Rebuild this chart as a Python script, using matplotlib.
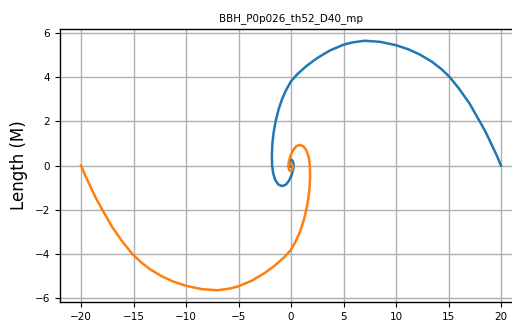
import matplotlib
matplotlib.use("Agg")
import matplotlib.pyplot as plt

title = "BBH_P0p026_th52_D40_mp"
ylabel = "Length (M)"
xticks = [-20, -15, -10, -5, 0, 5, 10, 15, 20]
yticks = [-6, -4, -2, 0, 2, 4, 6]

blue_x = [20.0, 19.55, 19.05, 18.55, 18.0, 17.0, 16.0, 15.1, 14.3, 13.4, 12.3, 11.2,
          10.0, 8.5, 7.0, 5.8, 5.0, 3.7, 2.5, 1.5, 0.6, 0.0, -0.45, -0.85, -1.2, -1.46,
          -1.65, -1.77, -1.82, -1.8, -1.7, -1.5, -1.2, -0.85, -0.5, -0.2, 0.05, 0.22,
          0.25, 0.15, 0.0, -0.13, -0.17, -0.1, 0.0]
blue_y = [0.0, 0.5, 1.0, 1.5, 1.97, 2.8, 3.47, 4.0, 4.36, 4.69, 5.0, 5.24,
          5.43, 5.58, 5.63, 5.55, 5.45, 5.19, 4.85, 4.5, 4.12, 3.8, 3.42, 3.0, 2.5, 2.0,
          1.5, 1.0, 0.5, 0.0, -0.35, -0.65, -0.86, -0.93, -0.87, -0.69, -0.44, -0.15,
          0.08, 0.22, 0.26, 0.18, 0.03, -0.07, -0.06]
orange_x = [-20.0, -19.55, -19.05, -18.55, -18.0, -17.0, -16.0, -15.1, -14.3, -13.4,
            -12.3, -11.2, -10.0, -8.5, -7.0, -5.8, -5.0, -3.7, -2.5, -1.5, -0.6, 0.0,
            0.45, 0.85, 1.2, 1.46, 1.65, 1.77, 1.82, 1.8, 1.7, 1.5, 1.2, 0.85, 0.5, 0.2,
            -0.05, -0.22, -0.25, -0.15, 0.0, 0.13, 0.17, 0.1, 0.0]
orange_y = [0.0, -0.5, -1.0, -1.5, -1.97, -2.8, -3.47, -4.0, -4.36, -4.69, -5.0, -5.24,
            -5.43, -5.58, -5.63, -5.55, -5.45, -5.19, -4.85, -4.5, -4.12, -3.8, -3.42,
            -3.0, -2.5, -2.0, -1.5, -1.0, -0.5, 0.0, 0.35, 0.65, 0.86, 0.93, 0.87, 0.69,
            0.44, 0.15, -0.08, -0.22, -0.26, -0.18, -0.03, 0.07, 0.06]

fig = plt.figure(figsize=(5.12, 3.32), dpi=100)
ax = fig.add_axes([60/512, 30/332, 462/512, 273/332])
ax.plot(blue_x, blue_y, color="#1f77b4", lw=1.8)
ax.plot(orange_x, orange_y, color="#ff7f0e", lw=1.8)
ax.set_xlim(-22, 22)
ax.set_ylim(-6.16, 6.16)
ax.set_xticks(xticks)
ax.set_yticks(yticks)
ax.grid(True, color="#b0b0b0", lw=1.0)
for s in ax.spines.values():
    s.set_linewidth(1.0)
ax.tick_params(labelsize=7.5)
ax.set_title(title, fontsize=7.5, pad=6)
ax.set_ylabel(ylabel, fontsize=12, labelpad=5)
fig.savefig("out.png", dpi=100)
